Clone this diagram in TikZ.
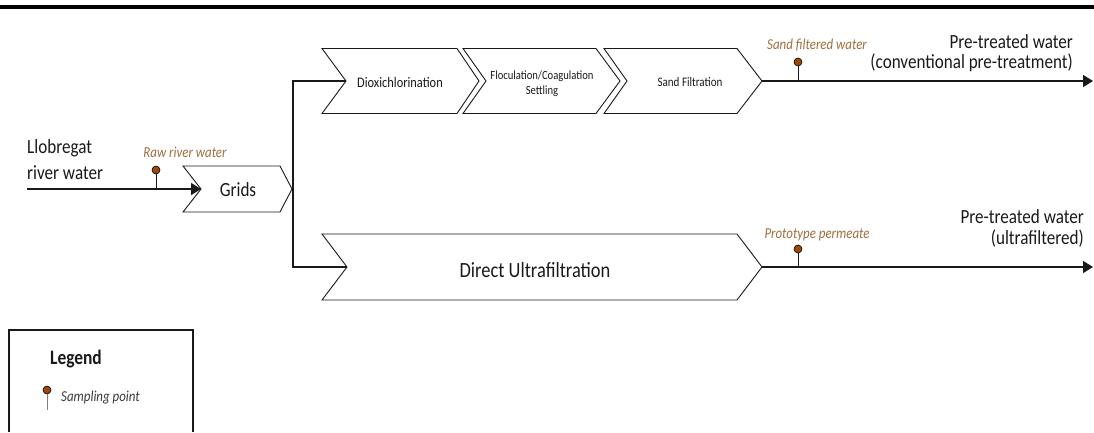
\documentclass[tikz,border=0pt]{standalone}
\usepackage{fontspec}
\setmainfont{Carlito}[FakeStretch=0.85]
\usetikzlibrary{arrows.meta}

\definecolor{ink}{RGB}{25,25,25}
\definecolor{pinfill}{RGB}{156,72,12}
\definecolor{samplelabel}{RGB}{158,110,62}

\tikzset{
  stage/.style={draw=ink, line width=0.9pt, line join=miter},
  flow/.style={draw=ink, line width=1.5pt},
  flowarrow/.style={flow, -{Triangle[length=10pt,width=12pt]}},
  txt/.style={inner sep=0pt, text=ink},
  sample/.style={inner sep=0pt, text=samplelabel, font=\fontsize{15.2}{17}\selectfont\itshape},
  pinhead/.style={circle, draw=black, line width=0.6pt, fill=pinfill, minimum size=8pt, inner sep=0pt},
  stem/.style={draw=ink, line width=1pt},
}

% chevron: name, left x, right x, mid y, half height, notch depth, tip depth
\newcommand\chevron[7]{%
  \draw[stage] (#2,#4-#5) -- (#3-#7,#4-#5) -- (#3,#4) -- (#3-#7,#4+#5)
     -- (#2,#4+#5) -- (#2+#6,#4) -- cycle;
  \coordinate (#1-in) at (#2+#6,#4);
  \coordinate (#1-out) at (#3,#4);
}

\begin{document}
\begin{tikzpicture}[x=1pt, y=-1pt]
\useasboundingbox (0,0) rectangle (1094,432);

% heavy rule along the top
\fill[black] (0,4.5) rectangle (1094,8.5);

% process stages
\chevron{grids}{183}{292}{189}{23}{18}{12}
\chevron{dioxi}{322}{479}{81}{32.5}{24}{22}
\chevron{floc}{463}{620}{81}{32.5}{23}{24}
\chevron{sand}{604}{762}{81}{32.5}{23}{25}
\chevron{uf}{322}{762}{267}{33}{25}{25}

% stage names
\node[txt, font=\fontsize{20.1}{22}\selectfont] (gridsname) at (238,190) {Grids};
\node[txt, font=\fontsize{14.6}{16}\selectfont] (dioxiname) at (400,82) {Dioxichlorination};
\node[txt, font=\fontsize{12.5}{15}\selectfont, align=center] (flocname) at (542,84) {Floculation/Coagulation\\Settling};
\node[txt, font=\fontsize{13}{15}\selectfont] (sandname) at (690,82) {Sand Filtration};
\node[txt, font=\fontsize{21.7}{24}\selectfont] (ufname) at (535,270) {Direct Ultrafiltration};

% inlet and outlets
\coordinate (inlet) at (27,189);
\coordinate (convout) at (1093,81);
\coordinate (ufout) at (1093,267);

\node[txt, font=\fontsize{20.1}{26}\selectfont, align=left, anchor=west] (river) at (27,160) {Llobregat\\river water};
\node[txt, font=\fontsize{20.1}{20}\selectfont, align=right, anchor=east] (convlabel) at (1073,53) {Pre-treated water\\(conventional pre-treatment)};
\node[txt, font=\fontsize{20.1}{21}\selectfont, align=right, anchor=east] (uflabel) at (1084,228) {Pre-treated water\\(ultrafiltered)};

% flow lines
\draw[flowarrow] (inlet) -- (grids-in);
\coordinate (split) at (293,189);
\draw[flow] (dioxi-in) -| (split) |- (uf-in);
\draw[flowarrow] (sand-out) -- (convout);
\draw[flowarrow] (uf-out) -- (ufout);

% sampling points
\coordinate (rawtap) at (156,189);
\node[pinhead] (rawpin) at (156,170) {};
\draw[stem] (rawtap) -- (rawpin);
\node[sample] (rawlabel) at (185,152) {Raw river water};

\coordinate (sandtap) at (798,81);
\node[pinhead] (sandpin) at (798,62) {};
\draw[stem] (sandtap) -- (sandpin);
\node[sample] (sandlabel) at (817,45) {Sand filtered water};

\coordinate (uftap) at (798,267);
\node[pinhead] (ufpin) at (798,249) {};
\draw[stem] (uftap) -- (ufpin);
\node[sample] (proto) at (817,235) {Prototype permeate};

% legend
\draw[draw=ink, line width=1.3pt] (9,432) -- (9,330) -- (193,330) -- (193,432);
\node[txt, font=\fontsize{20.5}{22}\selectfont\bfseries] (legendtitle) at (76,359) {Legend};
\coordinate (legtap) at (47,410);
\node[pinhead] (legpin) at (47,390) {};
\draw[stem, draw=gray] (legtap) -- (legpin);
\node[txt, anchor=west, text=ink!85, font=\fontsize{15.2}{16}\selectfont\itshape] (legtext) at (61,398) {Sampling point};
\end{tikzpicture}
\end{document}
